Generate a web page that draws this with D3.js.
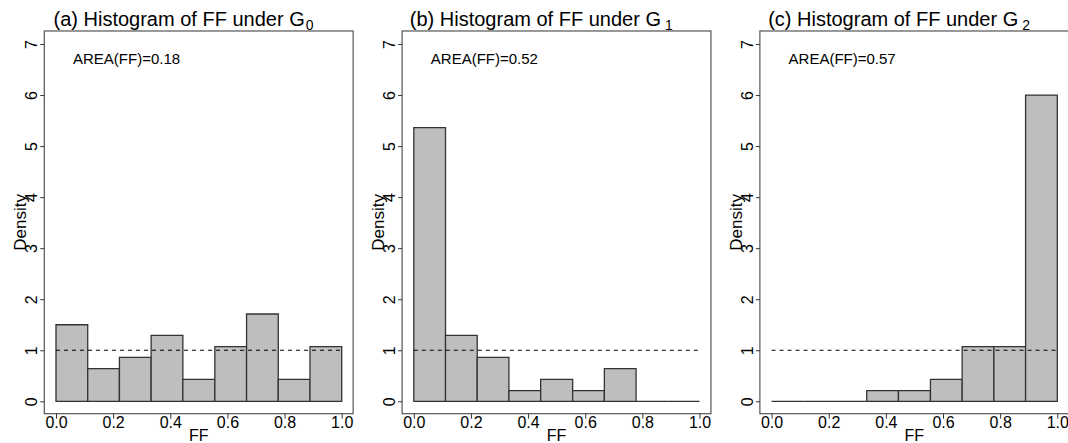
<!DOCTYPE html>
<html>
<head>
<meta charset="utf-8">
<script src="https://cdn.jsdelivr.net/npm/d3@7"></script>
<style>
  body { margin: 0; background: #fff; }
  text { font-family: "Liberation Sans", Arial, sans-serif; fill: #000; }
</style>
</head>
<body>
<svg id="chart" width="1068" height="443"></svg>
<script>
// histogram bin edges (9 equal bins on [0,1])
const binEdges = [0, 0.111, 0.222, 0.333, 0.444, 0.556, 0.667, 0.778, 0.889, 1.0]

// densities
const densityG0 = [1.50, 0.64, 0.86, 1.29, 0.43, 1.07, 1.71, 0.43, 1.07]
const densityG1 = [5.36, 1.29, 0.86, 0.21, 0.43, 0.21, 0.64, 0, 0]
const densityG2 = [0, 0, 0, 0.21, 0.21, 0.43, 1.07, 1.07, 6.00]

const panelLetters = ['(a)', '(b)', '(c)']
const subscripts = ['0', '1', '2']
const areaLabels = ['AREA(FF)=0.18', 'AREA(FF)=0.52', 'AREA(FF)=0.57']

const xTicks = [0, 0.2, 0.4, 0.6, 0.8, 1.0]
const yTicks = [0, 1, 2, 3, 4, 5, 6, 7]

const panels = [densityG0, densityG1, densityG2]

const svg = d3.select('#chart')
svg.append('rect').attr('width', 1068).attr('height', 443).attr('fill', '#fff')

const panelStep = 357.8

panels.forEach((dens, i) => {
    const ox = i * panelStep
    const x = d3.scaleLinear().domain([0, 1]).range([56 + ox, 341.7 + ox])
    const y = d3.scaleLinear().domain([0, 7]).range([401.3, 44])
    const g = svg.append('g')

    // plot box (R style, 4% padding)
    const bx0 = x(-0.041), bx1 = x(1.04)
    const by0 = y(7.255), by1 = y(-0.243)
    g.append('rect')
        .attr('x', bx0).attr('y', by0)
        .attr('width', bx1 - bx0).attr('height', by1 - by0)
        .attr('fill', 'none').attr('stroke', '#555').attr('stroke-width', 1.2)

    // bars (paths so that empty bins still show as a line on the baseline)
    g.selectAll('path.bar')
        .data(dens)
        .enter()
        .append('path')
        .attr('class', 'bar')
        .attr('d', (d, j) => {
            const x0 = x(binEdges[j]), x1 = x(binEdges[j + 1])
            return 'M' + x0 + ',' + y(0) + 'V' + y(d) + 'H' + x1 + 'V' + y(0) + 'Z'
        })
        .attr('fill', '#bebebe')
        .attr('stroke', '#333')
        .attr('stroke-width', 1.3)

    // reference line at density 1
    g.append('line')
        .attr('x1', x(0)).attr('x2', x(1))
        .attr('y1', y(1)).attr('y2', y(1))
        .attr('stroke', '#000').attr('stroke-width', 1)
        .attr('stroke-dasharray', '4,4')

    // y axis
    const yAxis = g.append('g')
        .attr('transform', 'translate(' + bx0 + ',0)')
        .call(d3.axisLeft(y).tickValues(yTicks).tickSize(4).tickFormat(d3.format('d')))
    yAxis.select('.domain').remove()
    yAxis.selectAll('line').attr('stroke', '#333')
    yAxis.selectAll('text')
        .attr('font-size', 16)
        .attr('font-family', '"Liberation Sans", Arial, sans-serif')
        .attr('fill', '#000')
        .attr('x', 0).attr('y', 0).attr('dy', 0)
        .attr('text-anchor', 'middle')
        .attr('transform', 'translate(-7,0) rotate(-90)')

    // x axis
    const xAxis = g.append('g')
        .attr('transform', 'translate(0,' + by1 + ')')
        .call(d3.axisBottom(x).tickValues(xTicks).tickSize(5).tickFormat(d3.format('.1f')))
    xAxis.select('.domain').remove()
    xAxis.selectAll('line').attr('stroke', '#333')
    xAxis.selectAll('text')
        .attr('font-size', 16)
        .attr('font-family', '"Liberation Sans", Arial, sans-serif')
        .attr('fill', '#000')
        .attr('y', 14.5).attr('dy', 0)

    // axis titles
    g.append('text')
        .attr('x', (bx0 + bx1) / 2).attr('y', 441)
        .attr('text-anchor', 'middle').attr('font-size', 16)
        .text('FF')
    g.append('text')
        .attr('transform', 'translate(' + (ox + 26) + ',' + ((by0 + by1) / 2) + ') rotate(-90)')
        .attr('text-anchor', 'middle').attr('font-size', 17)
        .text('Density')

    // AREA annotation
    g.append('text')
        .attr('x', 73 + ox).attr('y', 64)
        .attr('font-size', 15)
        .text(areaLabels[i])

    // title
    const t = g.append('text')
        .attr('x', 183.5 + ox).attr('y', 26)
        .attr('text-anchor', 'middle').attr('font-size', 20)
    t.append('tspan').text(panelLetters[i] + ' Histogram of FF under G')
    t.append('tspan').attr('font-size', 14).attr('dy', 4).attr('dx', i === 0 ? 1 : 4).text(subscripts[i])
})
</script>
</body>
</html>
